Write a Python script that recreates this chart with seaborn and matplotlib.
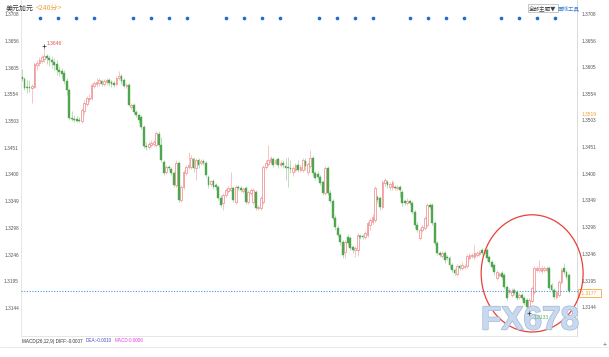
import matplotlib
matplotlib.use("Agg")
import matplotlib.pyplot as plt
import matplotlib.transforms as mtransforms
import matplotlib.patheffects as pe
from matplotlib.patches import Ellipse
from matplotlib.lines import Line2D
import seaborn as sns
import numpy as np
import pandas as pd

# ---------------- data (USD/CAD, 240-minute candles) ----------------
opens = [
    1.3587, 1.3583, 1.3568, 1.3568, 1.3566, 1.3568, 1.3610, 1.3614, 1.3618, 1.3622,
    1.3627, 1.3624, 1.3620, 1.3616, 1.3612, 1.3600, 1.3599, 1.3595, 1.3579, 1.3562,
    1.3508, 1.3507, 1.3507, 1.3505, 1.3503, 1.3522, 1.3535, 1.3545, 1.3547, 1.3570,
    1.3574, 1.3576, 1.3579, 1.3574, 1.3577, 1.3581, 1.3577, 1.3576, 1.3574, 1.3585,
    1.3589, 1.3581, 1.3570, 1.3572, 1.3530, 1.3533, 1.3520, 1.3514, 1.3510, 1.3491,
    1.3454, 1.3453, 1.3456, 1.3458, 1.3456, 1.3478, 1.3456, 1.3424, 1.3405, 1.3414,
    1.3410, 1.3403, 1.3380, 1.3422, 1.3351, 1.3376, 1.3403, 1.3414, 1.3414, 1.3430,
    1.3412, 1.3428, 1.3422, 1.3426, 1.3422, 1.3395, 1.3382, 1.3387, 1.3380, 1.3376,
    1.3355, 1.3345, 1.3361, 1.3368, 1.3370, 1.3374, 1.3347, 1.3376, 1.3374, 1.3368,
    1.3374, 1.3347, 1.3364, 1.3347, 1.3366, 1.3336, 1.3336, 1.3347, 1.3414, 1.3420,
    1.3424, 1.3430, 1.3422, 1.3430, 1.3418, 1.3422, 1.3416, 1.3414, 1.3412, 1.3405,
    1.3408, 1.3418, 1.3408, 1.3408, 1.3426, 1.3405, 1.3416, 1.3431, 1.3403, 1.3401,
    1.3395, 1.3385, 1.3364, 1.3412, 1.3364, 1.3349, 1.3316, 1.3297, 1.3284, 1.3270,
    1.3251, 1.3280, 1.3278, 1.3260, 1.3255, 1.3255, 1.3282, 1.3282, 1.3280, 1.3284,
    1.3303, 1.3309, 1.3312, 1.3357, 1.3355, 1.3338, 1.3384, 1.3385, 1.3376, 1.3376,
    1.3376, 1.3374, 1.3376, 1.3366, 1.3349, 1.3345, 1.3349, 1.3345, 1.3328, 1.3303,
    1.3278, 1.3293, 1.3297, 1.3303, 1.3341, 1.3341, 1.3307, 1.3268, 1.3249, 1.3243,
    1.3249, 1.3241, 1.3239, 1.3226, 1.3217, 1.3209, 1.3224, 1.3220, 1.3222, 1.3224,
    1.3239, 1.3243, 1.3241, 1.3245, 1.3247, 1.3255, 1.3249, 1.3255, 1.3241, 1.3232,
    1.3226, 1.3201, 1.3207, 1.3211, 1.3207, 1.3184, 1.3174, 1.3169, 1.3178, 1.3174,
    1.3165, 1.3169, 1.3163, 1.3159, 1.3144, 1.3157, 1.3174, 1.3217, 1.3217, 1.3215,
    1.3217, 1.3217, 1.3220, 1.3188, 1.3178, 1.3165, 1.3169, 1.3193, 1.3220, 1.3213,
    1.3207,
]
closes = [
    1.3583, 1.3566, 1.3566, 1.3566, 1.3570, 1.3612, 1.3614, 1.3620, 1.3625, 1.3627,
    1.3624, 1.3620, 1.3616, 1.3610, 1.3600, 1.3597, 1.3593, 1.3579, 1.3562, 1.3508,
    1.3507, 1.3505, 1.3503, 1.3503, 1.3524, 1.3537, 1.3547, 1.3547, 1.3572, 1.3576,
    1.3577, 1.3581, 1.3574, 1.3579, 1.3581, 1.3576, 1.3574, 1.3572, 1.3585, 1.3589,
    1.3579, 1.3570, 1.3572, 1.3533, 1.3533, 1.3520, 1.3514, 1.3505, 1.3491, 1.3454,
    1.3453, 1.3458, 1.3460, 1.3462, 1.3480, 1.3456, 1.3428, 1.3403, 1.3414, 1.3412,
    1.3403, 1.3380, 1.3422, 1.3351, 1.3376, 1.3405, 1.3414, 1.3418, 1.3431, 1.3412,
    1.3428, 1.3418, 1.3426, 1.3422, 1.3399, 1.3380, 1.3387, 1.3376, 1.3376, 1.3355,
    1.3341, 1.3361, 1.3370, 1.3374, 1.3374, 1.3351, 1.3376, 1.3374, 1.3370, 1.3372,
    1.3347, 1.3366, 1.3370, 1.3370, 1.3336, 1.3338, 1.3355, 1.3414, 1.3422, 1.3428,
    1.3431, 1.3418, 1.3428, 1.3418, 1.3422, 1.3418, 1.3412, 1.3412, 1.3410, 1.3412,
    1.3418, 1.3408, 1.3414, 1.3428, 1.3416, 1.3420, 1.3431, 1.3403, 1.3393, 1.3395,
    1.3384, 1.3364, 1.3412, 1.3364, 1.3349, 1.3316, 1.3299, 1.3284, 1.3270, 1.3245,
    1.3270, 1.3268, 1.3259, 1.3255, 1.3259, 1.3284, 1.3280, 1.3280, 1.3287, 1.3307,
    1.3312, 1.3318, 1.3374, 1.3351, 1.3338, 1.3385, 1.3389, 1.3380, 1.3382, 1.3385,
    1.3374, 1.3376, 1.3370, 1.3345, 1.3345, 1.3349, 1.3345, 1.3328, 1.3303, 1.3293,
    1.3293, 1.3299, 1.3316, 1.3341, 1.3338, 1.3307, 1.3268, 1.3249, 1.3245, 1.3249,
    1.3236, 1.3239, 1.3226, 1.3217, 1.3211, 1.3224, 1.3220, 1.3226, 1.3224, 1.3243,
    1.3245, 1.3245, 1.3249, 1.3249, 1.3251, 1.3249, 1.3253, 1.3239, 1.3232, 1.3222,
    1.3213, 1.3213, 1.3209, 1.3203, 1.3184, 1.3163, 1.3178, 1.3174, 1.3172, 1.3163,
    1.3169, 1.3163, 1.3153, 1.3145, 1.3159, 1.3182, 1.3220, 1.3220, 1.3220, 1.3220,
    1.3220, 1.3220, 1.3182, 1.3178, 1.3165, 1.3174, 1.3193, 1.3217, 1.3213, 1.3203,
    1.3177,
]
highs = [
    1.3602, 1.3587, 1.3581, 1.3581, 1.3574, 1.3616, 1.3620, 1.3625, 1.3629, 1.3646,
    1.3631, 1.3629, 1.3627, 1.3624, 1.3620, 1.3608, 1.3604, 1.3600, 1.3585, 1.3566,
    1.3522, 1.3514, 1.3512, 1.3510, 1.3528, 1.3543, 1.3551, 1.3554, 1.3576, 1.3579,
    1.3585, 1.3585, 1.3583, 1.3583, 1.3585, 1.3585, 1.3581, 1.3579, 1.3589, 1.3599,
    1.3593, 1.3585, 1.3576, 1.3576, 1.3537, 1.3537, 1.3524, 1.3518, 1.3514, 1.3495,
    1.3462, 1.3464, 1.3466, 1.3466, 1.3484, 1.3484, 1.3472, 1.3428, 1.3418, 1.3418,
    1.3414, 1.3407, 1.3428, 1.3426, 1.3380, 1.3408, 1.3418, 1.3443, 1.3437, 1.3433,
    1.3431, 1.3431, 1.3430, 1.3430, 1.3426, 1.3399, 1.3389, 1.3391, 1.3384, 1.3380,
    1.3361, 1.3364, 1.3374, 1.3378, 1.3405, 1.3378, 1.3380, 1.3380, 1.3378, 1.3376,
    1.3378, 1.3370, 1.3374, 1.3374, 1.3370, 1.3341, 1.3359, 1.3418, 1.3428, 1.3456,
    1.3435, 1.3433, 1.3431, 1.3433, 1.3428, 1.3428, 1.3431, 1.3433, 1.3428, 1.3416,
    1.3422, 1.3428, 1.3418, 1.3431, 1.3431, 1.3424, 1.3447, 1.3435, 1.3407, 1.3407,
    1.3399, 1.3389, 1.3416, 1.3416, 1.3370, 1.3353, 1.3322, 1.3303, 1.3287, 1.3274,
    1.3274, 1.3286, 1.3282, 1.3264, 1.3262, 1.3287, 1.3286, 1.3286, 1.3291, 1.3311,
    1.3316, 1.3324, 1.3378, 1.3361, 1.3359, 1.3389, 1.3393, 1.3389, 1.3385, 1.3389,
    1.3380, 1.3380, 1.3380, 1.3370, 1.3353, 1.3355, 1.3353, 1.3349, 1.3332, 1.3309,
    1.3297, 1.3303, 1.3320, 1.3345, 1.3345, 1.3345, 1.3311, 1.3272, 1.3253, 1.3253,
    1.3253, 1.3245, 1.3243, 1.3230, 1.3220, 1.3228, 1.3228, 1.3232, 1.3228, 1.3247,
    1.3249, 1.3249, 1.3264, 1.3253, 1.3255, 1.3259, 1.3257, 1.3259, 1.3245, 1.3236,
    1.3230, 1.3217, 1.3213, 1.3215, 1.3211, 1.3188, 1.3182, 1.3182, 1.3182, 1.3178,
    1.3172, 1.3172, 1.3167, 1.3163, 1.3163, 1.3186, 1.3224, 1.3224, 1.3236, 1.3224,
    1.3224, 1.3224, 1.3224, 1.3191, 1.3182, 1.3178, 1.3197, 1.3220, 1.3230, 1.3217,
    1.3211,
]
lows = [
    1.3579, 1.3562, 1.3556, 1.3558, 1.3537, 1.3566, 1.3600, 1.3608, 1.3614, 1.3616,
    1.3612, 1.3608, 1.3604, 1.3600, 1.3591, 1.3589, 1.3585, 1.3574, 1.3553, 1.3505,
    1.3503, 1.3501, 1.3501, 1.3501, 1.3499, 1.3516, 1.3531, 1.3539, 1.3543, 1.3566,
    1.3568, 1.3570, 1.3570, 1.3570, 1.3572, 1.3570, 1.3568, 1.3568, 1.3570, 1.3581,
    1.3574, 1.3566, 1.3566, 1.3531, 1.3526, 1.3516, 1.3510, 1.3499, 1.3487, 1.3451,
    1.3447, 1.3449, 1.3453, 1.3454, 1.3453, 1.3453, 1.3424, 1.3399, 1.3401, 1.3408,
    1.3399, 1.3376, 1.3376, 1.3347, 1.3347, 1.3372, 1.3399, 1.3410, 1.3410, 1.3405,
    1.3389, 1.3412, 1.3418, 1.3418, 1.3395, 1.3374, 1.3378, 1.3372, 1.3370, 1.3351,
    1.3338, 1.3332, 1.3357, 1.3364, 1.3368, 1.3347, 1.3343, 1.3370, 1.3366, 1.3364,
    1.3343, 1.3343, 1.3361, 1.3343, 1.3332, 1.3332, 1.3332, 1.3343, 1.3410, 1.3416,
    1.3420, 1.3414, 1.3418, 1.3412, 1.3414, 1.3412, 1.3389, 1.3376, 1.3403, 1.3397,
    1.3405, 1.3405, 1.3405, 1.3405, 1.3408, 1.3399, 1.3412, 1.3397, 1.3389, 1.3391,
    1.3380, 1.3361, 1.3361, 1.3361, 1.3345, 1.3312, 1.3293, 1.3280, 1.3264, 1.3239,
    1.3239, 1.3262, 1.3255, 1.3249, 1.3241, 1.3243, 1.3276, 1.3276, 1.3276, 1.3280,
    1.3293, 1.3305, 1.3309, 1.3345, 1.3332, 1.3334, 1.3378, 1.3374, 1.3370, 1.3370,
    1.3370, 1.3370, 1.3357, 1.3339, 1.3341, 1.3341, 1.3341, 1.3324, 1.3297, 1.3289,
    1.3274, 1.3289, 1.3293, 1.3299, 1.3334, 1.3303, 1.3264, 1.3245, 1.3241, 1.3239,
    1.3230, 1.3236, 1.3220, 1.3213, 1.3207, 1.3205, 1.3217, 1.3217, 1.3218, 1.3220,
    1.3236, 1.3239, 1.3237, 1.3241, 1.3243, 1.3245, 1.3245, 1.3236, 1.3228, 1.3218,
    1.3207, 1.3197, 1.3203, 1.3199, 1.3180, 1.3159, 1.3170, 1.3165, 1.3169, 1.3159,
    1.3161, 1.3159, 1.3149, 1.3142, 1.3133, 1.3153, 1.3170, 1.3213, 1.3213, 1.3211,
    1.3213, 1.3213, 1.3178, 1.3174, 1.3161, 1.3161, 1.3165, 1.3190, 1.3209, 1.3199,
    1.3172,
]
ytick_values = [1.3708, 1.3656, 1.3605, 1.3554, 1.3503, 1.3451,
                1.3400, 1.3349, 1.3298, 1.3246, 1.3195, 1.3144]
event_idx = [7.2, 14.5, 21.7, 29.0, 44.6, 51.9, 59.1, 66.4,
             82.1, 89.3, 96.5, 103.8, 119.5, 126.7, 134.0, 141.2,
             156.1, 163.3, 170.6, 177.8, 192.7, 199.9, 207.2, 214.4]
last_price = 1.3177
ref_price = 1.3519
peak_idx, peak_price = 9, 1.3646
low_idx, low_price = 204, 1.3133
title_pair = "美元加元"
title_period = "<240分>"
macd_texts = ["MACD(26,12,9) DIFF:-0.0007", "DEA:-0.0010", "MACD:0.0006"]
# highlight ring (candle index / price centre, size)
ring_center = (205.2, 1.3210)
ring_size = (41.0, 0.0225)

# ---------------- style ----------------
sns.set_style("white")
plt.rcParams["font.family"] = ["Liberation Sans", "Noto Sans CJK SC", "DejaVu Sans"]
CJK = ["Noto Sans CJK SC", "DejaVu Sans"]

W, H = 609, 357
fig = plt.figure(figsize=(W / 100, H / 100), dpi=100)
ax = fig.add_axes([21 / W, 21 / H, 556 / W, 336 / H])

df = pd.DataFrame({"open": opens, "high": highs, "low": lows, "close": closes})
df["idx"] = np.arange(len(df))
up = df["close"] >= df["open"]
body = (df["close"] - df["open"]).abs().clip(lower=0.00012)
bottom = np.minimum(df["open"], df["close"])

UP_EDGE, UP_WICK = "#ee8686", "#f6bcbc"
DN_FACE, DN_WICK = "#4fa64f", "#b2d8b2"

ax.vlines(df["idx"][up], df["low"][up], df["high"][up], color=UP_WICK, lw=0.6, zorder=1)
ax.vlines(df["idx"][~up], df["low"][~up], df["high"][~up], color=DN_WICK, lw=0.6, zorder=1)
ax.bar(df["idx"][up], body[up], bottom=bottom[up], width=0.72,
       facecolor="white", edgecolor=UP_EDGE, linewidth=0.5, zorder=2)
ax.bar(df["idx"][~up], body[~up], bottom=bottom[~up], width=0.72,
       facecolor=DN_FACE, edgecolor=DN_FACE, linewidth=0.3, zorder=2)

# event dots along the top
top_tr = mtransforms.blended_transform_factory(ax.transData, ax.transAxes)
sns.scatterplot(x=event_idx, y=[0.947] * len(event_idx), ax=ax, transform=top_tr,
                color="#1f6fc5", s=7, linewidth=0, legend=False, zorder=4, clip_on=False)

# extreme markers
sns.scatterplot(x=[peak_idx, low_idx], y=[peak_price, low_price], ax=ax, marker="+",
                color="#333333", s=5, linewidth=0.5, legend=False, zorder=8)
ax.annotate(f"{peak_price:.4f}", (peak_idx, peak_price), xytext=(1.5, 2.0),
            textcoords="offset points", fontsize=3.6, color="#e05252", va="center")
ax.annotate(f"{low_price:.4f}", (low_idx, low_price), xytext=(3.5, -3.0),
            textcoords="offset points", fontsize=3.6, color="#5cb85c", va="center",
            zorder=8)

# current price line
ax.axhline(last_price, color="#3f93ec", lw=0.7, ls=(0, (1.2, 1.6)), xmax=1.008,
           clip_on=False, zorder=3)

ax.set_xlim(-0.4, 223.25)
ax.set_ylim(1.30898, 1.37349)

# axes labels left (ticks) and right (text)
ax.set_xticks([])
ax.set_yticks(ytick_values)
ax.set_yticklabels([f"{v:.4f}" for v in ytick_values])
ax.tick_params(axis="y", length=0, labelsize=3.4, labelcolor="#555555", pad=1.5)
right_tr = mtransforms.blended_transform_factory(ax.transAxes, ax.transData)
for v in ytick_values:
    ax.text(1 + 5 / 556, v, f"{v:.4f}", transform=right_tr, fontsize=3.4,
            color="#555555", va="center", ha="left", clip_on=False)
ax.text(1 + 5 / 556, ref_price, f"{ref_price:.4f}", transform=right_tr, fontsize=3.4,
        color="#f39a2c", va="top", ha="left", clip_on=False, zorder=6,
        bbox=dict(boxstyle="square,pad=0.15", fc="white", ec="none"))
ax.text(1 + 3 / 556, last_price, f" {last_price:.4f}  ", transform=right_tr, fontsize=3.4,
        color="#f39a2c", va="top", ha="left", clip_on=False,
        bbox=dict(boxstyle="square,pad=0.35", fc="white", ec="#f5a840", lw=0.6))

ax.spines["top"].set_visible(False)
ax.spines["left"].set_color("#e2e2e2")
ax.spines["right"].set_color("#d6d6d6")
ax.spines["bottom"].set_color("#e2e2e2")
for s in ["left", "right", "bottom"]:
    ax.spines[s].set_linewidth(0.6)

# highlight ring
ax.add_patch(Ellipse(ring_center, ring_size[0], ring_size[1], fill=False,
                     edgecolor="#e8403a", lw=0.9, zorder=5, clip_on=False))

# watermark (under the low label)
ax.text(530 / W, 1 - 321 / H, "FX678", transform=fig.transFigure, fontsize=24,
        fontweight="bold", color="#c8d8ee", ha="center", va="center", zorder=6,
        clip_on=False, path_effects=[pe.withStroke(linewidth=1.0, foreground="#a3b8d6")])

# header texts
fig.text(6 / W, 1 - 8 / H, title_pair, fontsize=5, family=CJK, color="#333333", va="center")
fig.text(36 / W, 1 - 8 / H, title_period, fontsize=5, family=CJK, color="#f5a03a", va="center")
fig.text(529 / W, 1 - 8 / H, "全部主题▼", fontsize=4, family=CJK, color="#444444",
         va="center", bbox=dict(boxstyle="square,pad=0.2", fc="white", ec="#b0b0b0", lw=0.5))
fig.text(558 / W, 1 - 8 / H, "画线工具", fontsize=4, family=CJK, color="#3b82d6", va="center")

# MACD line and bottom frame
fig.text(22 / W, 1 - 341 / H, macd_texts[0], fontsize=3.3, color="#333333", va="center")
fig.text(86 / W, 1 - 341 / H, macd_texts[1], fontsize=3.3, color="#4b4bd0", va="center")
fig.text(115 / W, 1 - 341 / H, macd_texts[2], fontsize=3.3, color="#e040e0", va="center")
fig.add_artist(Line2D([0, 1], [1 - 347 / H] * 2, transform=fig.transFigure,
                      color="#e6e6e6", lw=0.6))
fig.text(605 / W, 1 - 345 / H, "+", fontsize=5, color="#666666", ha="center", va="center")

fig.savefig("out.png", dpi=100, facecolor="white")
